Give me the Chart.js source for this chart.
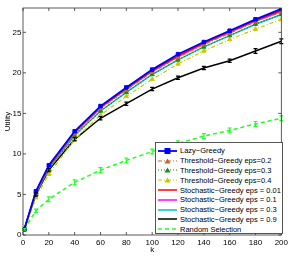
<!DOCTYPE html>
<html>
<head>
<meta charset="utf-8">
<script src="https://cdn.jsdelivr.net/npm/chart.js@4.4.0/dist/chart.umd.min.js"></script>
<style>
  html, body { margin: 0; padding: 0; background: #fff; }
  #wrap { position: relative; width: 291px; height: 257px; }
  #chart { display: block; }
  #legend {
    position: absolute; left: 155px; top: 142px; width: 128px; height: 92px;
    border: 1px solid #555; background: #fff; box-sizing: border-box;
    font-family: "Liberation Sans", Arial, sans-serif; font-size: 7.5px; color: #000;
    padding-top: 3px;
  }
  .row { display: flex; align-items: center; height: 9.8px; white-space: nowrap; }
  .row svg { margin-left: 2px; margin-right: 3px; flex: none; }
</style>
</head>
<body>
<div id="wrap">
  <canvas id="chart" width="291" height="257"></canvas>
  <div id="legend"></div>
</div>
<script>
const kValues = [1, 10, 20, 40, 60, 80, 100, 120, 140, 160, 180, 200];

const lazyGreedy   = [0.7, 5.4, 8.6, 12.8, 15.9, 18.2, 20.4, 22.3, 23.8, 25.2, 26.6, 27.9];
const threshold02  = [0.7, 5.2, 8.3, 12.5, 15.6, 17.9, 20.1, 21.9, 23.5, 24.9, 26.3, 27.5];
const threshold03  = [0.7, 5.0, 8.1, 12.2, 15.3, 17.6, 19.8, 21.6, 23.2, 24.6, 26.0, 27.2];
const threshold04  = [0.6, 4.6, 7.5, 11.8, 14.8, 17.1, 19.2, 21.1, 22.7, 24.1, 25.4, 26.6];
const stochastic001 = [0.7, 5.3, 8.5, 12.7, 15.8, 18.1, 20.3, 22.1, 23.7, 25.1, 26.5, 27.7];
const stochastic01  = [0.7, 5.3, 8.4, 12.6, 15.7, 18.0, 20.2, 22.0, 23.6, 25.0, 26.4, 27.6];
const stochastic03  = [0.7, 5.1, 8.2, 12.3, 15.3, 17.6, 19.8, 21.6, 23.2, 24.6, 26.0, 27.2];
const stochastic09  = [0.7, 5.0, 8.0, 11.8, 14.4, 16.2, 18.0, 19.4, 20.6, 21.5, 22.7, 23.9];
const randomSel     = [0.7, 3.0, 4.4, 6.5, 8.0, 9.2, 10.3, 11.3, 12.2, 12.9, 13.7, 14.4];

const stochastic09Err = [0.1, 0.2, 0.2, 0.2, 0.2, 0.2, 0.2, 0.2, 0.2, 0.2, 0.3, 0.3];
const randomSelErr    = [0.1, 0.2, 0.3, 0.3, 0.3, 0.3, 0.3, 0.3, 0.3, 0.3, 0.3, 0.3];

const xTicks = [0, 20, 40, 60, 80, 100, 120, 140, 160, 180, 200];
const yTicks = [0, 5, 10, 15, 20, 25];

const series = [
  { label: "Lazy\u2212Greedy", data: lazyGreedy, color: "#0000ff", dash: [], style: "rect", radius: 2.5, width: 1.8 },
  { label: "Threshold\u2212Greedy eps=0.2", data: threshold02, color: "#c8642a", dash: [4, 2, 1, 2], style: "triangle", radius: 2.5, width: 1.2 },
  { label: "Threshold\u2212Greedy eps=0.3", data: threshold03, color: "#1a8a1a", dash: [1, 2], style: "triangle", radius: 2.5, width: 1.2 },
  { label: "Threshold\u2212Greedy eps=0.4", data: threshold04, color: "#c8c800", dash: [4, 2, 1, 2], style: "triangle", radius: 2.5, width: 1.2 },
  { label: "Stochastic\u2212Greedy eps = 0.01", data: stochastic001, color: "#ff0000", dash: [], style: false, radius: 0, width: 1.5 },
  { label: "Stochastic\u2212Greedy eps = 0.1", data: stochastic01, color: "#ff00ff", dash: [], style: false, radius: 0, width: 1.5 },
  { label: "Stochastic\u2212Greedy eps = 0.3", data: stochastic03, color: "#00c0c0", dash: [], style: false, radius: 0, width: 1.5 },
  { label: "Stochastic\u2212Greedy eps = 0.9", data: stochastic09, color: "#000000", dash: [], style: false, radius: 0, width: 1.5, errors: stochastic09Err },
  { label: "Random Selection", data: randomSel, color: "#22ff22", dash: [4, 3], style: false, radius: 0, width: 1.5, errors: randomSelErr }
];

const font = { family: "'Liberation Sans', Arial, sans-serif", size: 8 };

// error bars and the matlab style box with inward ticks
const matlabFrame = {
  id: "matlabFrame",
  afterDatasetsDraw(chart) {
    const ctx = chart.ctx;
    chart.data.datasets.forEach((ds, i) => {
      if (!ds.errors) return;
      const meta = chart.getDatasetMeta(i);
      const ys = chart.scales.y;
      ctx.save();
      ctx.strokeStyle = ds.borderColor;
      ctx.lineWidth = 1.2;
      meta.data.forEach((pt, j) => {
        const v = ds.data[j].y;
        const top = ys.getPixelForValue(v + ds.errors[j]);
        const bot = ys.getPixelForValue(v - ds.errors[j]);
        ctx.beginPath();
        ctx.moveTo(pt.x, top); ctx.lineTo(pt.x, bot);
        ctx.moveTo(pt.x - 2, top); ctx.lineTo(pt.x + 2, top);
        ctx.moveTo(pt.x - 2, bot); ctx.lineTo(pt.x + 2, bot);
        ctx.stroke();
      });
      ctx.restore();
    });
  },
  afterDraw(chart) {
    const { ctx, chartArea: a, scales } = chart;
    ctx.save();
    ctx.strokeStyle = "#333";
    ctx.lineWidth = 0.8;
    ctx.strokeRect(a.left, a.top, a.right - a.left, a.bottom - a.top);
    ctx.beginPath();
    xTicks.forEach(t => {
      const x = scales.x.getPixelForValue(t);
      ctx.moveTo(x, a.bottom); ctx.lineTo(x, a.bottom - 3);
      ctx.moveTo(x, a.top); ctx.lineTo(x, a.top + 3);
    });
    yTicks.forEach(t => {
      const y = scales.y.getPixelForValue(t);
      ctx.moveTo(a.left, y); ctx.lineTo(a.left + 3, y);
      ctx.moveTo(a.right, y); ctx.lineTo(a.right - 3, y);
    });
    ctx.stroke();
    ctx.restore();
  }
};

new Chart(document.getElementById("chart"), {
  type: "line",
  data: {
    datasets: series.map(s => ({
      label: s.label,
      data: kValues.map((k, i) => ({ x: k, y: s.data[i] })),
      borderColor: s.color,
      backgroundColor: s.color,
      borderWidth: s.width,
      borderDash: s.dash,
      pointStyle: s.style,
      pointRadius: s.radius,
      pointBorderWidth: 1,
      errors: s.errors,
      tension: 0
    }))
  },
  options: {
    responsive: false,
    animation: false,
    layout: { padding: { top: 8, right: 8, left: 0, bottom: 0 } },
    plugins: { legend: { display: false }, tooltip: { enabled: false } },
    scales: {
      x: {
        type: "linear", min: 0, max: 200,
        afterBuildTicks: s => { s.ticks = xTicks.map(v => ({ value: v })); },
        afterFit: s => { s.height = 22; },
        grid: { display: false, drawTicks: false },
        border: { display: false },
        ticks: { color: "#000", font, padding: 3, maxRotation: 0 },
        title: { display: true, text: "k", color: "#000", font, padding: { top: 0, bottom: 2 } }
      },
      y: {
        min: 0, max: 28,
        afterBuildTicks: s => { s.ticks = yTicks.map(v => ({ value: v })); },
        afterFit: s => { s.width = 23; },
        grid: { display: false, drawTicks: false },
        border: { display: false },
        ticks: { color: "#000", font, padding: 1.5 },
        title: { display: true, text: "Utility", color: "#000", font, padding: { top: 3, bottom: 0 } }
      }
    }
  },
  plugins: [matlabFrame]
});

// legend drawn as html inside the axes, like the matlab one
const legend = document.getElementById("legend");
series.forEach(s => {
  const row = document.createElement("div");
  row.className = "row";
  let marker = "";
  if (s.style === "rect") marker = `<rect x="7" y="1.5" width="5" height="5" fill="${s.color}" stroke="${s.color}"/>`;
  if (s.style === "triangle") marker = `<polygon points="9.5,1.5 12.5,6.5 6.5,6.5" fill="${s.color}"/>`;
  row.innerHTML = `<svg width="19" height="8"><line x1="0" y1="4" x2="19" y2="4" stroke="${s.color}" stroke-width="${s.width}" stroke-dasharray="${s.dash.join(" ")}"/>${marker}</svg><span>${s.label}</span>`;
  legend.appendChild(row);
});
</script>
</body>
</html>
